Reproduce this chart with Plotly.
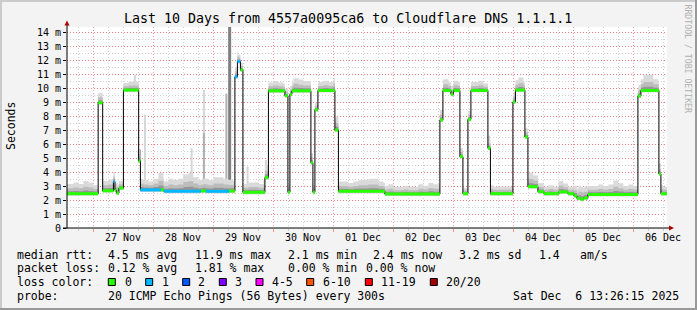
import numpy as np
import pandas as pd
import plotly.graph_objects as go

# ---------------- data ----------------
start = "2025-11-26 13:26:15"
end = "2025-12-06 13:26:15"

med_times = [
    "2025-11-26 13:26", "2025-11-27 01:54", "2025-11-27 03:42", "2025-11-27 08:00",
    "2025-11-27 08:36", "2025-11-27 09:12", "2025-11-27 10:12", "2025-11-27 12:00",
    "2025-11-27 18:06", "2025-11-27 18:48", "2025-11-28 03:00", "2025-11-28 04:12",
    "2025-11-28 19:00", "2025-11-28 21:00", "2025-11-29 06:12", "2025-11-29 08:36",
    "2025-11-29 09:36", "2025-11-29 10:48", "2025-11-29 11:48", "2025-11-29 20:36",
    "2025-11-29 22:00", "2025-11-30 04:36", "2025-11-30 05:48", "2025-11-30 06:36",
    "2025-11-30 07:24", "2025-11-30 15:00", "2025-11-30 15:48", "2025-11-30 16:36",
    "2025-11-30 17:48", "2025-12-01 00:36", "2025-12-01 02:00", "2025-12-01 20:36",
    "2025-12-02 18:36", "2025-12-02 19:48", "2025-12-02 23:00", "2025-12-03 00:00",
    "2025-12-03 02:36", "2025-12-03 03:48", "2025-12-03 05:48", "2025-12-03 07:00",
    "2025-12-03 13:48", "2025-12-03 14:48", "2025-12-03 23:48", "2025-12-04 00:48",
    "2025-12-04 04:36", "2025-12-04 05:48", "2025-12-04 09:48", "2025-12-04 12:12",
    "2025-12-04 18:12", "2025-12-04 21:48", "2025-12-05 00:12", "2025-12-05 01:24",
    "2025-12-05 03:00", "2025-12-05 04:12", "2025-12-05 05:48", "2025-12-06 01:48",
    "2025-12-06 03:00", "2025-12-06 10:12", "2025-12-06 11:00",
]
med_vals = [
    2.45, 8.95, 2.66, 3.3,
    2.7, 2.5, 2.85, 9.85,
    4.8, 2.72, 2.72, 2.62,
    2.65, 2.62, 2.64, 10.8,
    11.9, 11.3, 2.55, 3.6,
    9.8, 9.45, 2.55, 9.55,
    9.8, 4.66, 2.55, 8.45,
    9.82, 7.0, 2.62, 2.42,
    7.72, 9.82, 9.55, 9.82,
    5.1, 2.45, 7.76, 9.82,
    5.7, 2.45, 9.0, 9.85,
    6.5, 2.95, 2.6, 2.45,
    2.58, 2.45, 2.3, 2.12,
    2.05, 2.15, 2.4, 9.43,
    9.82, 3.86, 2.45,
]
# packets lost (of 20) per median segment
med_loss = [
    0, 0, 0, 1,
    0, 0, 0, 0,
    0, 1, 0, 1,
    0, 1, 0, 1,
    1, 0, 0, 0,
    0, 0, 0, 0,
    0, 0, 0, 0,
    0, 0, 0, 0,
    0, 0, 0, 0,
    0, 0, 0, 0,
    0, 0, 0, 0,
    0, 0, 0, 0,
    0, 0, 0, 0,
    0, 0, 0, 0,
    0, 0, 0,
]

# smoke: spread of the 20 pings above the median (ms), 2-hour cells
smoke_grid_start = "2025-11-26 12:00"
smoke_spread = [
    0.7, 0.7, 0.8, 0.7, 0.9, 0.8, 0.6, 0.7, 0.7, 0.8, 0.7, 0.5,
    0.5, 0.6, 0.6, 0.8, 0.7, 0.6, 0.8, 1.2, 0.7, 0.9, 0.8, 0.9,
    1.2, 1.3, 1.0, 0.8, 0.9, 0.8, 1.0, 1.0, 0.9, 0.8, 0.7, 0.5,
    0.6, 0.7, 0.7, 0.6, 0.9, 0.6, 0.7, 0.6, 0.5, 0.6, 0.9, 0.8,
    0.7, 0.7, 0.5, 0.6, 0.7, 0.6, 0.9, 0.7, 0.7, 0.6, 0.7, 0.8,
    0.8, 0.9, 0.9, 0.7, 0.6, 0.7, 0.5, 0.5, 0.6, 0.5, 0.5, 0.7,
    0.6, 0.8, 0.7, 0.7, 0.8, 0.6, 0.7, 0.6, 0.4, 0.6, 0.6, 0.7,
    0.5, 0.6, 0.5, 0.5, 0.5, 0.5, 0.7, 0.9, 0.6, 1.0, 0.8, 0.6,
    0.5, 0.6, 0.5, 0.8, 0.6, 0.5, 0.7, 0.9, 0.8, 0.6, 0.6, 0.7,
    0.6, 0.7, 1.0, 0.8, 0.6, 0.7, 0.6, 0.8, 1.1, 1.1, 0.8, 0.6,
    0.5, 0.5,
]
smoke_below = 0.15

# isolated smoke spikes (max ping of a single step)
spike_times = [
    "2025-11-27 16:36", "2025-11-27 18:24", "2025-11-27 20:36", "2025-11-28 15:17",
    "2025-11-28 20:12", "2025-11-28 20:12", "2025-11-29 05:12", "2025-11-29 06:30",
    "2025-11-29 13:40", "2025-11-29 21:00", "2025-11-30 15:24", "2025-12-01 01:24",
    "2025-12-02 19:12", "2025-12-03 03:12", "2025-12-03 14:18", "2025-12-04 05:12",
    "2025-12-06 10:36",
]
spike_tops = [10.95, 5.6, 8.1, 5.7, 9.86, 6.8, 9.6, 15.0, 4.4, 4.86, 5.3, 7.95,
              8.1, 5.7, 6.6, 7.1, 4.6]
spike_shade = [0, 2, 0, 0, 0, 1, 1, 2, 0, 0, 1, 0, 0, 0, 0, 0, 0]

day_labels = ["27 Nov", "28 Nov", "29 Nov", "30 Nov", "01 Dec",
              "02 Dec", "03 Dec", "04 Dec", "05 Dec", "06 Dec"]
day_label_times = ["2025-11-27 12:00", "2025-11-28 12:00", "2025-11-29 12:00",
                   "2025-11-30 12:00", "2025-12-01 12:00", "2025-12-02 12:00",
                   "2025-12-03 12:00", "2025-12-04 12:00", "2025-12-05 12:00",
                   "2025-12-06 12:00"]
y_tickvals = list(range(15))
y_ticktext = ["0"] + [f"{i} m" for i in range(1, 15)]

loss_labels = ["0", "1", "2", "3", "4-5", "6-10", "11-19", "20/20"]
loss_colors = ["#26ff00", "#00b8ff", "#0059ff", "#7e00ff", "#ff00ff",
               "#ff5500", "#ff0000", "#a10000"]

stat_rtt = ["median rtt:", "4.5 ms avg", "11.9 ms max", "2.1 ms min",
            "2.4 ms now", "3.2 ms sd", "1.4", "am/s"]
stat_loss = ["packet loss:", "0.12 % avg", "1.81 % max", "0.00 % min", "0.00 % now"]
probe_text = ["probe:", "20 ICMP Echo Pings (56 Bytes) every 300s"]
stamp = "Sat Dec\u00a0\u00a06 13:26:15 2025"
title = "Last 10 Days from 4557a0095ca6 to Cloudflare DNS 1.1.1.1"

# ---------------- layout geometry ----------------
W, H = 697, 310
L, R, T, B = 67, 30, 27, 82
PW, PH = W - L - R, H - T - B
MONO = "DejaVu Sans Mono"


def px(x):
    return (x - L) / PW


def py(y):
    return (H - B - y) / PH


# ---------------- derived series ----------------
t_start, t_end = pd.Timestamp(start), pd.Timestamp(end)
bp_t = pd.to_datetime(med_times)
med_arr = np.array(med_vals)
grid_t = pd.date_range(smoke_grid_start, periods=len(smoke_spread), freq="2h")
spread_arr = np.array(smoke_spread)

all_t = sorted(set(bp_t) | set(grid_t[grid_t > t_start]) | {t_start, t_end})
all_t = [t for t in all_t if t_start <= t <= t_end]
all_t = pd.DatetimeIndex(all_t)


def med_at(ts):
    idx = np.searchsorted(bp_t.values, pd.DatetimeIndex(ts).values, side="right") - 1
    return med_arr[np.clip(idx, 0, len(med_arr) - 1)]


def spread_at(ts):
    idx = np.searchsorted(grid_t.values, pd.DatetimeIndex(ts).values, side="right") - 1
    return spread_arr[np.clip(idx, 0, len(spread_arr) - 1)]


m = med_at(all_t)
s = spread_at(all_t)

fig = go.Figure()

# spikes (drawn first so bands sit over their base)
shade_cols = ["#d6d6d6", "#b0b0b0", "#808080"]
spike_t = pd.to_datetime(spike_times)
spike_base = med_at(spike_t)
for shade in (0, 1, 2):
    xs, ys = [], []
    for t, b, top, sh in zip(spike_t, spike_base, spike_tops, spike_shade):
        if sh == shade:
            xs += [t, t, None]
            ys += [b, top, None]
    fig.add_trace(go.Scatter(x=xs, y=ys, mode="lines", hoverinfo="skip",
                             line=dict(color=shade_cols[shade], width=3 if shade == 2 else 2)))

# smoke bands
bands = [(1.0, 1.0, "#dadada"), (0.6, 0.55, "#bcbcbc"), (0.3, 0.25, "#959595")]
for lo_f, hi_f, col in bands:
    fig.add_trace(go.Scatter(x=all_t, y=m - smoke_below * lo_f, mode="lines",
                             line=dict(width=0, shape="hv"), hoverinfo="skip"))
    fig.add_trace(go.Scatter(x=all_t, y=m + s * hi_f, mode="lines", fill="tonexty",
                             fillcolor=col, line=dict(width=0, shape="hv"),
                             hoverinfo="skip"))

# black median step line
fig.add_trace(go.Scatter(x=list(bp_t) + [t_end], y=list(med_arr) + [med_arr[-1]],
                         mode="lines", line=dict(color="#000000", width=1, shape="hv"),
                         hoverinfo="skip"))

# loss-coloured median segments
seg_ends = list(bp_t[1:]) + [t_end]
loss_class_idx = {0: 0, 1: 1, 2: 2, 3: 3}
for cls in sorted(set(med_loss)):
    xs, ys = [], []
    for t0, t1, v, lc in zip(bp_t, seg_ends, med_arr, med_loss):
        if lc == cls:
            xs += [max(t0, t_start), t1, None]
            ys += [v, v, None]
    fig.add_trace(go.Scatter(x=xs, y=ys, mode="lines", hoverinfo="skip",
                             line=dict(color=loss_colors[loss_class_idx[cls]], width=3)))

annotations = []


def ann(x, y, text, size=11.5, anchor="left", color="#000000", angle=0):
    annotations.append(dict(x=px(x), y=py(y), xref="paper", yref="paper", text=text,
                            showarrow=False, xanchor=anchor, yanchor="middle",
                            borderpad=0, textangle=angle,
                            font=dict(family=MONO, size=size, color=color)))


# day labels (at noon, under the axis)
for lab, t in zip(day_labels, day_label_times):
    annotations.append(dict(x=t, y=py(237.5), xref="x", yref="paper", text=lab,
                            showarrow=False, xanchor="center", yanchor="middle",
                            borderpad=0, font=dict(family=MONO, size=10, color="#000")))

ann(348, 18.5, title, size=13.3, anchor="center")
ann(11, 126, "Seconds", size=11.5, anchor="center", angle=-90)
ann(687.5, 59, "RRDTOOL / TOBI OETIKER", size=8.2, anchor="center",
    color="#b0b0b0", angle=90)

for xpos, txt in zip([16, 107.3, 194, 286.7, 372, 458, 537.7, 579.3], stat_rtt):
    ann(xpos, 254.5, txt)
for xpos, txt in zip([16, 107.3, 194, 286.7, 365.3], stat_loss):
    ann(xpos, 268.3, txt)
ann(16, 282.2, "loss color:")
box_x = [108.3, 145.7, 182.7, 219.3, 256, 306.7, 365.3, 430.3]
lab_x = [124, 160.7, 197.3, 234.3, 270.7, 321.7, 380.3, 445.3]
shapes = []
for bx, lx, lab, col in zip(box_x, lab_x, loss_labels, loss_colors):
    shapes.append(dict(type="rect", xref="paper", yref="paper",
                       x0=px(bx), x1=px(bx + 7), y0=py(285.5), y1=py(278.5),
                       fillcolor=col, line=dict(color="#000000", width=1)))
    ann(lx, 282.2, lab)
for xpos, txt in zip([16, 107.3], probe_text):
    ann(xpos, 296, txt)
ann(512.3, 296, stamp)

# axes lines and arrows
shapes.append(dict(type="line", xref="paper", yref="paper", x0=px(67), x1=px(67),
                   y0=py(228.5), y1=py(24), line=dict(color="#000", width=1), layer="above"))
shapes.append(dict(type="line", xref="paper", yref="paper", x0=px(63), x1=px(670),
                   y0=py(228), y1=py(228), line=dict(color="#000", width=1), layer="above"))
ax, ay = px(67), py(21)
shapes.append(dict(type="path", xref="paper", yref="paper",
                   path=f"M {px(64.5)} {py(25.5)} L {px(69.5)} {py(25.5)} L {px(67)} {py(20.5)} Z",
                   fillcolor="#b00000", line=dict(width=0), layer="above"))
shapes.append(dict(type="path", xref="paper", yref="paper",
                   path=f"M {px(669)} {py(225.5)} L {px(669)} {py(230.5)} L {px(674)} {py(228)} Z",
                   fillcolor="#b00000", line=dict(width=0), layer="above"))
# 3D frame
shapes.append(dict(type="line", xref="paper", yref="paper", x0=px(0), x1=px(697),
                   y0=py(1), y1=py(1), line=dict(color="#cbcbcb", width=2)))
shapes.append(dict(type="line", xref="paper", yref="paper", x0=px(1), x1=px(1),
                   y0=py(0), y1=py(310), line=dict(color="#cbcbcb", width=2)))
shapes.append(dict(type="line", xref="paper", yref="paper", x0=px(0), x1=px(697),
                   y0=py(309), y1=py(309), line=dict(color="#999999", width=2)))
shapes.append(dict(type="line", xref="paper", yref="paper", x0=px(696), x1=px(696),
                   y0=py(0), y1=py(310), line=dict(color="#999999", width=2)))

MAJ = "rgba(255,60,60,0.55)"
MIN = "rgba(150,150,150,0.45)"

fig.update_layout(
    width=W, height=H, margin=dict(l=L, r=R, t=T, b=B, pad=0),
    paper_bgcolor="#f3f3f3", plot_bgcolor="#ffffff", showlegend=False,
    annotations=annotations, shapes=shapes,
    xaxis=dict(type="date", range=[t_start, t_end], showticklabels=False,
               tick0="2025-11-27", dtick=86400000, showgrid=True, gridcolor=MAJ,
               griddash="1px,2px", gridwidth=1, ticks="outside", ticklen=3,
               tickcolor=MAJ, zeroline=False, showline=False,
               minor=dict(tick0="2025-11-27", dtick=6 * 3600000, showgrid=True,
                          gridcolor=MIN, griddash="1px,2px", ticks="outside",
                          ticklen=2, tickcolor=MIN)),
    yaxis=dict(range=[0, (H - B - T) / 14.0], tickmode="array", tickvals=y_tickvals,
               ticktext=y_ticktext, showgrid=True, gridcolor=MAJ, griddash="1px,2px",
               ticks="outside", ticklen=3, tickcolor="#000", zeroline=False,
               showline=False, tickfont=dict(family=MONO, size=10, color="#000"),
               minor=dict(tick0=0, dtick=0.5, showgrid=True, gridcolor=MIN,
                          griddash="1px,2px")),
)

fig.write_html("out.html")
